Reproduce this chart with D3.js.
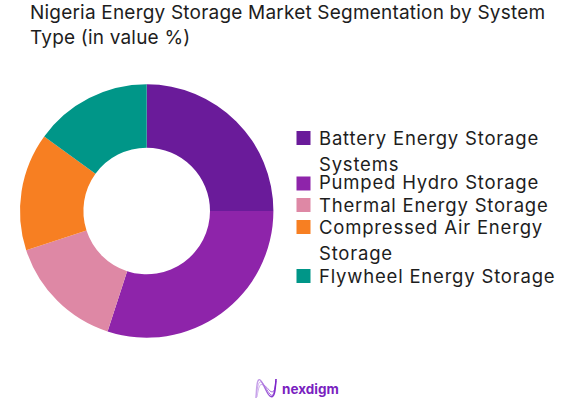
<!DOCTYPE html>
<html>
<head>
<meta charset="utf-8">
<script src="https://cdn.jsdelivr.net/npm/d3@7"></script>
<style>
html,body{margin:0;padding:0;background:#fff;}
svg{display:block;}
text{font-family:"Inter","Noto Sans",sans-serif;fill:#1d1d1d;}
</style>
</head>
<body>
<svg id="chart" width="578" height="409"></svg>
<script>
const titleLines = ["Nigeria Energy Storage Market Segmentation by System", "Type (in value %)"];
const categories = ["Battery Energy Storage Systems", "Pumped Hydro Storage", "Thermal Energy Storage", "Compressed Air Energy Storage", "Flywheel Energy Storage"];
const legendLines = [["Battery Energy Storage", "Systems"], ["Pumped Hydro Storage"], ["Thermal Energy Storage"], ["Compressed Air Energy", "Storage"], ["Flywheel Energy Storage"]];
const values = [25, 30, 15, 15, 15];
const colors = ["#6a1b9a", "#8e24aa", "#de88a5", "#f77f22", "#009688"];
const brandName = "nexdigm";

const svg = d3.select("#chart");

// Title
svg.selectAll("text.title").data(titleLines).join("text")
  .attr("class", "title")
  .attr("x", 30)
  .attr("y", (d, i) => 19 + i * 24.5)
  .attr("font-size", 19)
  .style("letter-spacing", "0.2px")
  .text(d => d);

// Donut
const cx = 146.7, cy = 211, R = 126.7, r = 63.3;
const pie = d3.pie().value(d => d).sort(null);
const arc = d3.arc().innerRadius(r).outerRadius(R);
svg.append("g").attr("transform", `translate(${cx},${cy})`)
  .selectAll("path").data(pie(values)).join("path")
  .attr("d", arc)
  .attr("fill", (d, i) => colors[i]);

// Legend
const firstBaselines = [145, 189, 212, 234, 283];
const wrapStep = 26;
const legend = svg.append("g");
const items = legend.selectAll("g").data(categories).join("g")
  .attr("transform", (d, i) => `translate(0,${firstBaselines[i]})`);
items.append("rect")
  .attr("x", 296.5).attr("y", (d, i) => i === 1 ? -12.5 : -14)
  .attr("width", 14).attr("height", 14)
  .attr("fill", (d, i) => colors[i]);
items.each(function (d, i) {
  d3.select(this).selectAll("text").data(legendLines[i]).join("text")
    .attr("x", 319)
    .attr("y", (l, j) => j * wrapStep)
    .attr("font-size", 18.5)
    .style("letter-spacing", "0.8px")
    .text(l => l);
});

// Logo
const grad = svg.append("defs").append("linearGradient").attr("id", "lg")
  .attr("x1", 0).attr("x2", 1).attr("y1", 0).attr("y2", 0);
grad.append("stop").attr("offset", 0).attr("stop-color", "#c9a6ea");
grad.append("stop").attr("offset", 1).attr("stop-color", "#7b22c9");
const logo = svg.append("g").attr("transform", "translate(256,379)").attr("fill", "none").attr("stroke", "url(#lg)");
const wave = d3.line().curve(d3.curveBasis);
[[[0, 19], [1, 0], [5, 0], [11, 14], [15, 19], [19, 16], [20, 0]],
 [[0, 19], [2, 3], [6, 2], [11, 11], [15, 17], [18, 16], [20, 0]],
 [[1, 18], [3, 6], [6, 5], [11, 8], [15, 14], [19, 12], [20, 2]]]
  .forEach((p, i) => logo.append("path").attr("d", wave(p)).attr("stroke-width", i === 0 ? 1.4 : 0.8));
svg.append("text").attr("x", 282).attr("y", 394)
  .attr("font-size", 13.5).attr("font-weight", 700)
  .style("fill", "#7a1fc0")
  .text(brandName);
</script>
</body>
</html>
